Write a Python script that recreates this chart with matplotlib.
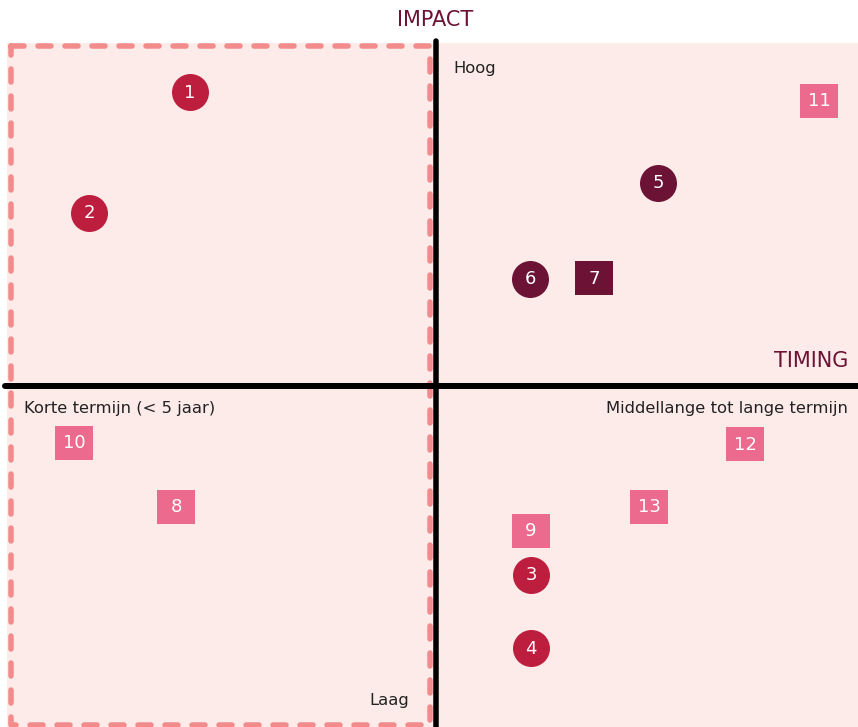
import matplotlib
matplotlib.use("Agg")
import matplotlib.pyplot as plt

plt.rcParams['font.family'] = ['DejaVu Sans']
plt.rcParams['lines.scale_dashes'] = False

W, H = 858, 727

# Item positions (x = timing, y = impact; chart pixel frame, y downwards)
labels = ["1", "2", "3", "4", "5", "6", "7", "8", "9", "10", "11", "12", "13"]
x_pos = [190, 89, 531, 531, 658, 530, 594, 176, 531, 74, 819, 745, 649]
y_pos = [92, 213, 575, 648, 183, 279, 278, 507, 531, 443, 101, 444, 507]
shapes = ["o", "o", "o", "o", "o", "o", "s", "s", "s", "s", "s", "s", "s"]
groups = ["red", "red", "red", "red", "dark", "dark", "dark",
          "pink", "pink", "pink", "pink", "pink", "pink"]

colors = {"red": "#BE1E3E", "dark": "#6B1235", "pink": "#EC6A8E"}

# Axis crossing & frame
x_mid, y_mid = 435.5, 385.5
bg_left, bg_top = 7, 43
dash_box = (11, 46, 429.5, 724.5)  # left, top, right, bottom

fig = plt.figure(figsize=(W / 100, H / 100), dpi=100)
ax = fig.add_axes([0, 0, 1, 1])
ax.set_xlim(0, W)
ax.set_ylim(H, 0)
ax.axis("off")

PX = 72 / 100  # points per pixel

# pink background
ax.add_patch(plt.Rectangle((bg_left, bg_top), W - bg_left, H - bg_top,
                           facecolor="#FCEBE9", edgecolor="none", zorder=0))

# dashed rectangle
l, t, r, b = dash_box
ax.plot([l, r, r, l, l], [t, t, b, b, t], color="#F28B8B", lw=5.5 * PX,
        dashes=(13 * PX, 14 * PX), dash_capstyle="round", zorder=1)

# axes lines
ax.plot([x_mid, x_mid], [41, H + 5], color="black", lw=5.5 * PX,
        solid_capstyle="round", zorder=2)
ax.plot([5, W + 5], [y_mid, y_mid], color="black", lw=6 * PX,
        solid_capstyle="round", zorder=2)

# markers
circ_d = 37 * PX
sq_w = 38 * PX
rect_marker = [(-19, -17), (19, -17), (19, 17), (-19, 17), (-19, -17)]
for lab, x, y, s, g in zip(labels, x_pos, y_pos, shapes, groups):
    if s == "o":
        ax.scatter([x], [y], s=circ_d ** 2, marker="o", color=colors[g],
                   linewidths=0, zorder=3)
    else:
        ax.scatter([x], [y], s=sq_w ** 2, marker=rect_marker, color=colors[g],
                   linewidths=0, zorder=3)
    ax.text(x, y + 0.5, lab, color="white", fontsize=13, ha="center",
            va="center", zorder=4)

# axis titles
title_col = "#6B1235"
ax.text(x_mid, 20, "IMPACT", color=title_col, fontsize=15, ha="center",
        va="center")
ax.text(848, 361, "TIMING", color=title_col, fontsize=15, ha="right",
        va="center")

txt_col = "#222222"
fs = 11.8
ax.text(453, 69, "Hoog", color=txt_col, fontsize=fs, ha="left", va="center")
ax.text(409, 701, "Laag", color=txt_col, fontsize=fs, ha="right", va="center")
ax.text(24, 408, "Korte termijn (< 5 jaar)", color=txt_col, fontsize=fs,
        ha="left", va="center")
ax.text(848, 408, "Middellange tot lange termijn", color=txt_col, fontsize=fs,
        ha="right", va="center")

fig.savefig("out.png", dpi=100)
